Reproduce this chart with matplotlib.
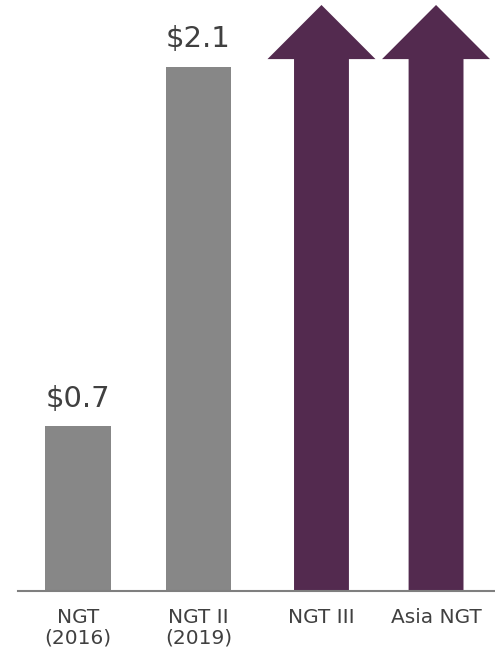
import numpy as np
import matplotlib.pyplot as plt

plt.rcParams["font.family"] = "DejaVu Sans"

# Chart data
categories = ["NGT\n(2016)", "NGT II\n(2019)", "NGT III", "Asia NGT"]
bar_values = [0.66, 2.1]
bar_labels = ["$0.7", "$2.1"]
arrow_tops = [2.35, 2.35]

GREY = "#878787"
PURPLE = "#532A4F"
TEXT = "#404040"

fig = plt.figure(figsize=(4.95, 6.58), dpi=100)
ax = fig.add_axes([18 / 495, 67 / 658, 477 / 495, 591 / 658])

# slot centres (slightly uneven in the original slide)
x = np.array([0, 1.01, 2.04, 3.0])

# grey bars with value labels
bars = ax.bar(x[:len(bar_values)], bar_values, width=0.55, color=GREY)
for rect, lab in zip(bars, bar_labels):
    ax.annotate(lab, (rect.get_x() + rect.get_width() / 2, rect.get_height()),
                xytext=(0, 10), textcoords="offset points",
                ha="center", va="bottom", fontsize=21, color=TEXT)

# purple arrows for the future programmes
for xi, top in zip(x[len(bar_values):], arrow_tops):
    ax.arrow(xi, 0, 0, top, width=0.46, head_width=0.905, head_length=0.217,
             length_includes_head=True, color=PURPLE, lw=0)

ax.set_xlim(-0.503, 3.494)
ax.set_ylim(0, 2.37)
ax.set_xticks(x)
ax.set_xticklabels(categories, fontsize=14.5, color=TEXT, linespacing=1.1)
ax.tick_params(axis="x", length=0, pad=12)
ax.set_yticks([])
for side in ["top", "right", "left"]:
    ax.spines[side].set_visible(False)
ax.spines["bottom"].set_color("#7f7f7f")
ax.spines["bottom"].set_linewidth(1.5)

fig.savefig("out.png", dpi=100, facecolor="white")
